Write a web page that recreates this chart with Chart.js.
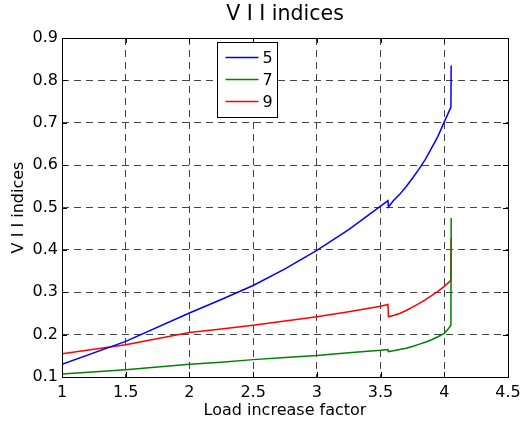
<!DOCTYPE html>
<html>
<head>
<meta charset="utf-8">
<script src="https://cdn.jsdelivr.net/npm/chart.js@4/dist/chart.umd.min.js"></script>
<style>
  html, body { margin: 0; padding: 0; background: #fff; }
  #wrap { width: 522px; height: 423px; }
</style>
</head>
<body>
<div id="wrap"><canvas id="chart" width="522" height="423"></canvas></div>
<script>
// --- Data ---
const loadFactor = [1, 1.5, 2, 2.25, 2.5, 2.75, 3, 3.25, 3.5, 3.558, 3.562, 3.6, 3.65, 3.7, 3.75, 3.8, 3.85, 3.9, 3.95, 4, 4.03, 4.052, 4.054];
const series5 = [0.130, 0.184, 0.251, 0.283, 0.316, 0.355, 0.399, 0.448, 0.503, 0.516, 0.501, 0.516, 0.531, 0.549, 0.569, 0.590, 0.613, 0.640, 0.668, 0.702, 0.722, 0.737, 0.835];
const series7 = [0.107, 0.117, 0.130, 0.135, 0.141, 0.146, 0.151, 0.157, 0.163, 0.165, 0.160, 0.162, 0.165, 0.168, 0.172, 0.177, 0.182, 0.188, 0.195, 0.203, 0.213, 0.222, 0.475];
const series9 = [0.155, 0.176, 0.205, 0.213, 0.222, 0.232, 0.242, 0.254, 0.267, 0.271, 0.242, 0.245, 0.250, 0.257, 0.265, 0.273, 0.282, 0.292, 0.302, 0.314, 0.322, 0.328, 0.427];
const seriesLabels = ['5', '7', '9'];
const seriesColors = ['#0000ff', '#008000', '#ff0000'];
const xTicks = [1, 1.5, 2, 2.5, 3, 3.5, 4, 4.5];
const yTicks = [0.1, 0.2, 0.3, 0.4, 0.5, 0.6, 0.7, 0.8, 0.9];

const FONT = 'DejaVu Sans';

const toPoints = vals => vals.map((v, i) => ({ x: loadFactor[i], y: v }));

// box, inward ticks and the matlab-style legend box
const matlabFrame = {
  id: 'matlabFrame',
  afterDatasetsDraw(chart) {
    const { ctx, chartArea: a, scales } = chart;
    ctx.save();
    ctx.strokeStyle = '#000';
    ctx.lineWidth = 1;
    const tl = 5;
    ctx.beginPath();
    xTicks.forEach(t => {
      const px = Math.round(scales.x.getPixelForValue(t)) + 0.5;
      ctx.moveTo(px, a.bottom); ctx.lineTo(px, a.bottom - tl);
      ctx.moveTo(px, a.top); ctx.lineTo(px, a.top + tl);
    });
    yTicks.forEach(t => {
      const py = Math.round(scales.y.getPixelForValue(t)) + 0.5;
      ctx.moveTo(a.left, py); ctx.lineTo(a.left + tl, py);
      ctx.moveTo(a.right, py); ctx.lineTo(a.right - tl, py);
    });
    ctx.stroke();
    ctx.strokeRect(Math.round(a.left) + 0.5, Math.round(a.top) + 0.5,
      Math.round(a.right - a.left), Math.round(a.bottom - a.top));

    // legend
    const lx = Math.round(a.left + 155) + 0.5, ly = Math.round(a.top + 4) + 0.5;
    const lw = 60, lh = 75;
    ctx.fillStyle = '#fff';
    ctx.fillRect(lx, ly, lw, lh);
    ctx.strokeRect(lx, ly, lw, lh);
    ctx.font = '16px "' + FONT + '"';
    ctx.textBaseline = 'middle';
    chart.data.datasets.forEach((ds, i) => {
      const y = ly + 15 + i * 22;
      ctx.strokeStyle = ds.borderColor;
      ctx.lineWidth = 1.5;
      ctx.beginPath();
      ctx.moveTo(lx + 8, y); ctx.lineTo(lx + 41, y);
      ctx.stroke();
      ctx.fillStyle = '#000';
      ctx.fillText(ds.label, lx + 45, y + 1);
    });
    ctx.restore();
  }
};

const datasets = [series5, series7, series9].map((vals, i) => ({
  label: seriesLabels[i],
  data: toPoints(vals),
  borderColor: seriesColors[i],
  backgroundColor: seriesColors[i],
  borderWidth: 1.5,
  pointRadius: 0,
  tension: 0,
  fill: false,
}));

const gridStyle = {
  color: '#444',
  lineWidth: 1,
  drawTicks: false,
};

new Chart(document.getElementById('chart'), {
  type: 'line',
  data: { datasets },
  options: {
    responsive: false,
    animation: false,
    layout: { padding: { top: 0, right: 14, left: 0, bottom: 0 } },
    plugins: {
      legend: { display: false },
      tooltip: { enabled: false },
      title: {
        display: true,
        text: 'V I I indices',
        fullSize: false,
        color: '#000',
        font: { family: FONT, size: 20.5, weight: 'normal' },
        padding: { top: 2, bottom: 11.4 },
      },
    },
    scales: {
      x: {
        type: 'linear',
        min: 1, max: 4.5,
        afterBuildTicks: s => { s.ticks = xTicks.map(v => ({ value: v })); },
        afterFit: s => { s.height = 46; s.paddingLeft = 0; s.paddingRight = 0; },
        grid: gridStyle,
        border: { display: false, dash: [7, 5] },
        ticks: { color: '#000', padding: 6, font: { family: FONT, size: 16 }, maxRotation: 0, callback: v => String(v) },
        title: { display: true, text: 'Load increase factor', color: '#000', font: { family: FONT, size: 16 }, padding: { top: 0, bottom: 3 } },
      },
      y: {
        min: 0.1, max: 0.9,
        afterBuildTicks: s => { s.ticks = yTicks.map(v => ({ value: v })); },
        afterFit: s => { s.width = 62; s.paddingTop = 0; s.paddingBottom = 0; },
        grid: gridStyle,
        border: { display: false, dash: [7, 5] },
        ticks: { color: '#000', padding: 4, font: { family: FONT, size: 16 }, callback: v => String(Math.round(v * 10) / 10) },
        title: { display: true, text: 'V I I indices', color: '#000', font: { family: FONT, size: 16 }, padding: { top: 9.4, bottom: 0 } },
      },
    },
  },
  plugins: [matlabFrame],
});
</script>
</body>
</html>
